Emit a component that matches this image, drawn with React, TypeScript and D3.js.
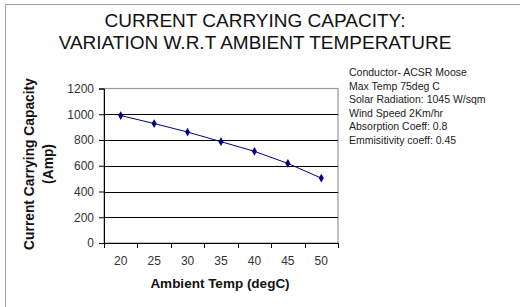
import React, { useEffect, useRef } from 'react';
import * as d3 from 'd3';

// values
const temps = ['20', '25', '30', '35', '40', '45', '50'];
const capacity = [990, 928, 862, 787, 712, 618, 504];
const yTicks = [0, 200, 400, 600, 800, 1000, 1200];
const titleLines = ['CURRENT CARRYING CAPACITY:', 'VARIATION W.R.T AMBIENT TEMPERATURE'];
const yTitleLines = ['Current Carrying Capacity', '(Amp)'];
const xTitle = 'Ambient Temp (degC)';
const notes = [
    'Conductor- ACSR Moose',
    'Max Temp 75deg C',
    'Solar Radiation: 1045 W/sqm',
    'Wind Speed 2Km/hr',
    'Absorption Coeff: 0.8',
    'Emmisitivity coeff: 0.45'
];

const FONT = 'Arial, "Liberation Sans", sans-serif';

export default function App() {
    const ref = useRef<SVGSVGElement>(null);

    useEffect(() => {
        const svg = d3.select(ref.current);
        svg.selectAll('*').remove();

        var plot = { left: 104, right: 338, top: 88.5, bottom: 243 };

        // outer frame (only top and left are visible)
        svg.append('rect')
            .attr('x', 5.5).attr('y', 4.5)
            .attr('width', 600).attr('height', 400)
            .attr('fill', 'white')
            .attr('stroke', '#a0a0a0');

        var title = svg.append('text')
            .attr('font-family', FONT)
            .attr('font-size', 19)
            .attr('text-anchor', 'middle')
            .attr('fill', '#111');
        titleLines.forEach((t, i) => {
            title.append('tspan').attr('x', 255).attr('y', 27 + i * 21.5).text(t);
        });

        var x = d3.scaleBand()
            .domain(temps)
            .range([plot.left, plot.right]);
        var y = d3.scaleLinear()
            .domain([0, 1200])
            .range([plot.bottom, plot.top]);

        // plot area frame
        svg.append('rect')
            .attr('x', plot.left).attr('y', plot.top)
            .attr('width', plot.right - plot.left).attr('height', plot.bottom - plot.top)
            .attr('fill', 'none')
            .attr('stroke', '#999')
            .attr('stroke-width', 1.2);

        // gridlines
        svg.selectAll('.grid')
            .data(yTicks.filter(d => d > 0 && d < 1200))
            .join('line')
            .attr('class', 'grid')
            .attr('x1', plot.left).attr('x2', plot.right)
            .attr('y1', d => Math.round(y(d)) + 0.5)
            .attr('y2', d => Math.round(y(d)) + 0.5)
            .attr('stroke', '#000')
            .attr('stroke-width', 1);

        // y axis
        var yAxis = svg.append('g')
            .attr('transform', `translate(${plot.left},0)`)
            .call(d3.axisLeft(y).tickValues(yTicks).tickFormat(d3.format('d')).tickSize(5).tickPadding(5));
        yAxis.select('.domain').attr('stroke', '#000');
        yAxis.selectAll('.tick line').attr('stroke', '#000');
        yAxis.selectAll('text')
            .attr('font-family', FONT)
            .attr('font-size', 12)
            .attr('fill', '#333');

        // x axis, ticks between categories
        var xAxis = svg.append('g')
            .attr('transform', `translate(0,${plot.bottom})`);
        xAxis.append('line')
            .attr('x1', plot.left).attr('x2', plot.right)
            .attr('y1', 0.5).attr('y2', 0.5)
            .attr('stroke', '#000');
        var edges = temps.map(t => x(t) as number).concat([plot.right]);
        xAxis.selectAll('.xtick')
            .data(edges)
            .join('line')
            .attr('class', 'xtick')
            .attr('x1', d => Math.round(d) + 0.5).attr('x2', d => Math.round(d) + 0.5)
            .attr('y1', 0).attr('y2', 5)
            .attr('stroke', '#000');
        xAxis.selectAll('.xlab')
            .data(temps)
            .join('text')
            .attr('class', 'xlab')
            .attr('x', d => (x(d) as number) + x.bandwidth() / 2)
            .attr('y', 22)
            .attr('text-anchor', 'middle')
            .attr('font-family', FONT)
            .attr('font-size', 12)
            .attr('fill', '#333')
            .text(d => d);

        // series
        var line = d3.line<number>()
            .x((d, i) => (x(temps[i]) as number) + x.bandwidth() / 2)
            .y(d => y(d));
        svg.append('path')
            .datum(capacity)
            .attr('d', line)
            .attr('fill', 'none')
            .attr('stroke', '#000080')
            .attr('stroke-width', 1);
        svg.selectAll('.pt')
            .data(capacity)
            .join('path')
            .attr('class', 'pt')
            .attr('transform', (d, i) => `translate(${(x(temps[i]) as number) + x.bandwidth() / 2},${y(d)})`)
            .attr('d', d3.symbol(d3.symbolDiamond, 22)())
            .attr('fill', '#000080');

        // axis titles
        var yt = svg.append('text')
            .attr('transform', 'translate(0,164) rotate(-90)')
            .attr('font-family', FONT)
            .attr('font-size', 13.8)
            .attr('font-weight', 'bold')
            .attr('text-anchor', 'middle')
            .attr('fill', '#111');
        yTitleLines.forEach((t, i) => {
            yt.append('tspan').attr('x', 0).attr('y', 34 + i * 19).text(t);
        });
        svg.append('text')
            .attr('x', 220).attr('y', 288)
            .attr('font-family', FONT)
            .attr('font-size', 13.5)
            .attr('font-weight', 'bold')
            .attr('text-anchor', 'middle')
            .attr('fill', '#111')
            .text(xTitle);

        // conditions box
        svg.selectAll('.note')
            .data(notes)
            .join('text')
            .attr('class', 'note')
            .attr('x', 349)
            .attr('y', (d, i) => 76 + i * 13.6)
            .attr('font-family', FONT)
            .attr('font-size', 10.5)
            .attr('fill', '#222')
            .text(d => d);
    }, []);

    return <svg ref={ref} width={520} height={307}
        style={{ position: 'absolute', left: 0, top: 0, background: 'white' }} />;
}
